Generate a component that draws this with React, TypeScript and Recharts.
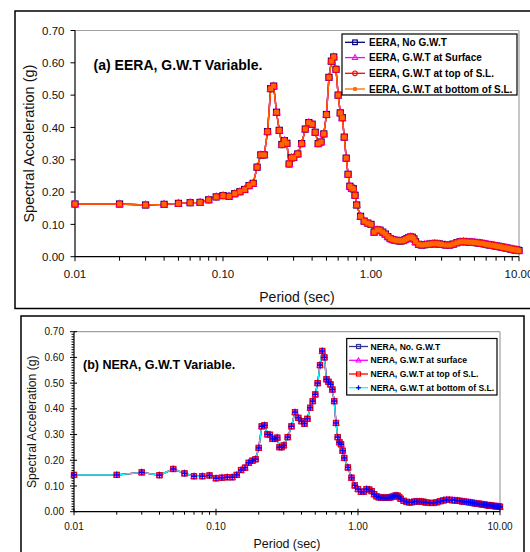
import React from 'react';
import { LineChart, Line, XAxis, YAxis, ReferenceLine } from 'recharts';

const FONT = 'Arial, "Liberation Sans", Helvetica, sans-serif';

// Period grid (sec)
const periods = [
  0.01, 0.02, 0.03, 0.04, 0.05, 0.06, 0.07, 0.08, 0.09, 0.10,
  0.11, 0.12, 0.13, 0.14, 0.15, 0.16, 0.17, 0.18, 0.19, 0.20,
  0.21, 0.22, 0.23, 0.24, 0.25, 0.26, 0.27, 0.28, 0.29, 0.30,
  0.32, 0.34, 0.36, 0.38, 0.40, 0.42, 0.44, 0.46, 0.48, 0.50,
  0.52, 0.54, 0.56, 0.58, 0.60, 0.62, 0.64, 0.66, 0.68, 0.70,
  0.72, 0.74, 0.76, 0.78, 0.80,
  0.85, 0.90, 0.95, 1.00, 1.05, 1.10, 1.15, 1.20, 1.25, 1.30,
  1.35, 1.40, 1.45, 1.50, 1.55, 1.60, 1.65, 1.70, 1.75, 1.80,
  1.85, 1.90, 1.95, 2.00,
  2.1, 2.2, 2.3, 2.4, 2.5, 2.6, 2.7, 2.8, 2.9, 3.0,
  3.2, 3.4, 3.6, 3.8, 4.0, 4.2, 4.4, 4.6, 4.8, 5.0,
  5.2, 5.4, 5.6, 5.8, 6.0, 6.2, 6.4, 6.6, 6.8, 7.0,
  7.2, 7.4, 7.6, 7.8, 8.0, 8.2, 8.4, 8.6, 8.8, 9.0,
  9.2, 9.4, 9.6, 9.8, 10.0,
];

// (a) EERA spectral acceleration (g) - the four G.W.T cases coincide
const eeraSa = [
  0.163, 0.163, 0.160, 0.162, 0.165, 0.167, 0.168, 0.176, 0.185, 0.189,
  0.187, 0.195, 0.201, 0.208, 0.220, 0.227, 0.277, 0.315, 0.315, 0.387,
  0.520, 0.528, 0.447, 0.391, 0.347, 0.359, 0.351, 0.287, 0.306, 0.307,
  0.318, 0.350, 0.395, 0.415, 0.410, 0.385, 0.350, 0.355, 0.380, 0.440,
  0.555, 0.605, 0.618, 0.580, 0.500, 0.445, 0.430, 0.370, 0.305, 0.255,
  0.218, 0.212, 0.210, 0.190, 0.160,
  0.125, 0.110, 0.104, 0.100, 0.076, 0.083, 0.082, 0.076, 0.070, 0.062,
  0.056, 0.053, 0.051, 0.050, 0.049, 0.049, 0.050, 0.053, 0.056, 0.059,
  0.061, 0.060, 0.055, 0.046,
  0.038, 0.036, 0.037, 0.038, 0.039, 0.040, 0.041, 0.040, 0.039, 0.038,
  0.036, 0.036, 0.039, 0.043, 0.046, 0.047, 0.046, 0.045, 0.045, 0.044,
  0.043, 0.042, 0.041, 0.040, 0.038, 0.037, 0.036, 0.035, 0.034, 0.033,
  0.032, 0.031, 0.030, 0.029, 0.028, 0.027, 0.026, 0.025, 0.024, 0.023,
  0.022, 0.021, 0.021, 0.020, 0.019,
];

// (b) NERA spectral acceleration (g) - the four G.W.T cases coincide
const neraSa = [
  0.143, 0.143, 0.153, 0.142, 0.166, 0.149, 0.138, 0.138, 0.141, 0.130,
  0.132, 0.134, 0.134, 0.143, 0.162, 0.171, 0.190, 0.198, 0.204, 0.248,
  0.332, 0.336, 0.301, 0.299, 0.283, 0.283, 0.288, 0.251, 0.251, 0.258,
  0.290, 0.332, 0.387, 0.365, 0.352, 0.342, 0.361, 0.404, 0.430, 0.456,
  0.500, 0.570, 0.625, 0.600, 0.515, 0.505, 0.495, 0.475, 0.430, 0.345,
  0.290, 0.270, 0.262, 0.237, 0.209,
  0.172, 0.132, 0.102, 0.088, 0.077, 0.078, 0.088, 0.086, 0.080, 0.068,
  0.060, 0.056, 0.055, 0.054, 0.054, 0.054, 0.055, 0.056, 0.058, 0.061,
  0.063, 0.062, 0.057, 0.050,
  0.042, 0.038, 0.036, 0.037, 0.039, 0.040, 0.040, 0.039, 0.038, 0.036,
  0.034, 0.034, 0.037, 0.041, 0.044, 0.046, 0.046, 0.045, 0.044, 0.043,
  0.042, 0.040, 0.039, 0.038, 0.037, 0.036, 0.034, 0.033, 0.032, 0.031,
  0.030, 0.029, 0.028, 0.027, 0.026, 0.025, 0.024, 0.024, 0.023, 0.022,
  0.022, 0.021, 0.020, 0.020, 0.019,
];

const yMajorTicks = [0, 0.1, 0.2, 0.3, 0.4, 0.5, 0.6, 0.7];
const yTickLabels = ['0.00', '0.10', '0.20', '0.30', '0.40', '0.50', '0.60', '0.70'];
const xMajorTicks = [0.01, 0.1, 1, 10];
const xTickLabels = ['0.01', '0.10', '1.00', '10.00'];
const xMinorTicks = [
  0.02, 0.03, 0.04, 0.05, 0.06, 0.07, 0.08, 0.09,
  0.2, 0.3, 0.4, 0.5, 0.6, 0.7, 0.8, 0.9,
  2, 3, 4, 5, 6, 7, 8, 9,
];
const yMinorStep = 0.01;

const eeraSeries = [
  { key: 'noGwt', name: 'EERA, No G.W.T', color: '#000080', marker: 'square', markerColor: '#000080' },
  { key: 'surface', name: 'EERA, G.W.T at Surface', color: '#FF00FF', marker: 'triangle', markerColor: '#FF00FF' },
  { key: 'top', name: 'EERA, G.W.T at top of S.L.', color: '#FF0000', marker: 'circle', markerColor: '#FF0000' },
  { key: 'bottom', name: 'EERA, G.W.T at bottom of S.L.', color: '#FF6600', marker: 'star', markerColor: '#FF6600' },
];
const neraSeries = [
  { key: 'noGwt', name: 'NERA, No. G.W.T', color: '#333399', marker: 'square', markerColor: '#333399' },
  { key: 'surface', name: 'NERA, G.W.T at surface', color: '#FF00FF', marker: 'triangle', markerColor: '#FF00FF' },
  { key: 'top', name: 'NERA, G.W.T at top of S.L.', color: '#FF0000', marker: 'square', markerColor: '#FF0000' },
  { key: 'bottom', name: 'NERA, G.W.T at bottom of S.L.', color: '#00FFFF', marker: 'plus', markerColor: '#0000FF' },
];

const eeraData = periods.map((T, i) => ({ T, noGwt: eeraSa[i], surface: eeraSa[i], top: eeraSa[i], bottom: eeraSa[i] }));
const neraData = periods.map((T, i) => ({ T, noGwt: neraSa[i], surface: neraSa[i], top: neraSa[i], bottom: neraSa[i] }));

function Marker({ kind, cx, cy, color, s }: any) {
  switch (kind) {
    case 'square':
      return <rect x={cx - s} y={cy - s} width={2 * s} height={2 * s} fill="none" stroke={color} strokeWidth={1.2} />;
    case 'triangle':
      return (
        <polygon
          points={`${cx},${cy - s * 1.25} ${cx - s * 1.15},${cy + s * 0.85} ${cx + s * 1.15},${cy + s * 0.85}`}
          fill="none" stroke={color} strokeWidth={1.1}
        />
      );
    case 'circle':
      return <circle cx={cx} cy={cy} r={s} fill="none" stroke={color} strokeWidth={1.2} />;
    case 'star':
      return <rect x={cx - s * 0.8} y={cy - s * 0.8} width={s * 1.6} height={s * 1.6} fill={color} />;
    case 'plus':
      return (
        <g stroke={color} strokeWidth={1.3}>
          <line x1={cx - s * 1.2} x2={cx + s * 1.2} y1={cy} y2={cy} />
          <line x1={cx} x2={cx} y1={cy - s * 1.2} y2={cy + s * 1.2} />
        </g>
      );
    default:
      return null;
  }
}

const isMajorX = (v: number) => xMajorTicks.findIndex((m) => Math.abs(m - v) < 1e-9);
const isMajorY = (v: number) => Math.abs(v * 10 - Math.round(v * 10)) < 1e-6;

function makeXTick(cfg: any) {
  return (props: any) => {
    const { x, y, payload } = props;
    const idx = isMajorX(payload.value);
    const major = idx >= 0;
    return (
      <g>
        <line
          x1={x} x2={x}
          y1={y - (major ? cfg.majorUp : 0)}
          y2={y + (major ? cfg.majorDown : cfg.minorDown)}
          stroke="#000" strokeWidth={1}
        />
        {major && (
          <text x={x} y={y + cfg.labelDy} textAnchor="middle" fontSize={cfg.fontSize} fontFamily={FONT} fill="#111">
            {xTickLabels[idx]}
          </text>
        )}
      </g>
    );
  };
}

function makeYTick(cfg: any) {
  return (props: any) => {
    const { x, y, payload } = props;
    const v = payload.value;
    const major = isMajorY(v);
    const li = yMajorTicks.findIndex((m) => Math.abs(m - v) < 1e-9);
    return (
      <g>
        <line
          x1={x - (major ? cfg.majorLeft : cfg.minorLeft)}
          x2={x + (major ? cfg.majorRight : 0)}
          y1={y} y2={y} stroke="#000" strokeWidth={1}
        />
        {major && li >= 0 && (
          <text x={x - cfg.labelGap} y={y + cfg.fontSize * 0.36} textAnchor="end" fontSize={cfg.fontSize} fontFamily={FONT} fill="#111">
            {yTickLabels[li]}
          </text>
        )}
      </g>
    );
  };
}

function makeDot(kind: string, color: string, s: number) {
  return (props: any) => {
    const { cx, cy, index } = props;
    if (cx == null || cy == null) return <g key={`e-${index}`} />;
    return (
      <g key={`d-${index}`}>
        <Marker kind={kind} cx={cx} cy={cy} color={color} s={s} />
      </g>
    );
  };
}

function SpectraChart(p: any) {
  const yTicks = p.yMinor
    ? Array.from({ length: Math.round(0.7 / yMinorStep) + 1 }, (_, i) => Math.round(i * yMinorStep * 100) / 100)
    : yMajorTicks;
  const xTicks = [...xMajorTicks, ...xMinorTicks].sort((a, b) => a - b);
  return (
    <div style={{ position: 'absolute', left: 0, top: p.top, width: 530, height: p.height }}>
      <LineChart
        width={530}
        height={p.height}
        data={p.data}
        margin={{ top: p.marginTop, right: p.marginRight, bottom: 0, left: 0 }}
      >
        <XAxis
          dataKey="T"
          type="number"
          scale="log"
          domain={[0.01, 10]}
          ticks={xTicks}
          interval={0}
          tickSize={0}
          tickMargin={0}
          tickLine={false}
          height={p.xAxisHeight}
          axisLine={{ stroke: '#000', strokeWidth: 1.2 }}
          tick={makeXTick(p.xTick)}
        />
        <YAxis
          type="number"
          domain={[0, 0.7]}
          ticks={yTicks}
          interval={0}
          tickSize={0}
          tickMargin={0}
          tickLine={false}
          width={p.yAxisWidth}
          axisLine={{ stroke: '#000', strokeWidth: 1.2 }}
          tick={makeYTick(p.yTick)}
        />
        <ReferenceLine y={0.7} stroke="#a0a0a0" strokeWidth={1.2} />
        <ReferenceLine x={10} stroke="#a0a0a0" strokeWidth={1.2} />
        {p.series.map((s: any) => (
          <Line
            key={s.key}
            type="linear"
            dataKey={s.key}
            name={s.name}
            stroke={s.color}
            strokeWidth={1.4}
            dot={makeDot(s.marker, s.markerColor, p.markerSize)}
            activeDot={false}
            isAnimationActive={false}
          />
        ))}
      </LineChart>
    </div>
  );
}

function LegendBox({ series, x, y, w, h, rows, lineX1, lineX2, markerX, textX, fontSize, markerSize }: any) {
  return (
    <g>
      <rect x={x} y={y} width={w} height={h} fill="#fff" stroke="#000" strokeWidth={1.2} />
      {series.map((s: any, i: number) => (
        <g key={s.key}>
          <line x1={lineX1} x2={lineX2} y1={rows[i]} y2={rows[i]} stroke={s.color} strokeWidth={1.3} />
          <Marker kind={s.marker} cx={markerX} cy={rows[i]} color={s.markerColor} s={markerSize} />
          <text x={textX} y={rows[i]} dominantBaseline="central" fontSize={fontSize} fontWeight="bold" fontFamily={FONT} fill="#000">
            {s.name}
          </text>
        </g>
      ))}
    </g>
  );
}

export default function App() {
  return (
    <div style={{ position: 'absolute', left: 0, top: 0, width: 530, height: 552, overflow: 'hidden', background: '#fff' }}>
      <SpectraChart
        top={0}
        height={300}
        marginTop={30.5}
        marginRight={11}
        yAxisWidth={75}
        xAxisHeight={43.3}
        data={eeraData}
        series={eeraSeries}
        markerSize={3}
        yMinor={false}
        xTick={{ majorUp: 0, majorDown: 4.5, minorDown: 4, labelDy: 21.5, fontSize: 11.5 }}
        yTick={{ majorLeft: 4.5, minorLeft: 0, majorRight: 0, labelGap: 10.5, fontSize: 11.5 }}
      />
      <SpectraChart
        top={300}
        height={252}
        marginTop={31.7}
        marginRight={30}
        yAxisWidth={74}
        xAxisHeight={40.3}
        data={neraData}
        series={neraSeries}
        markerSize={2.5}
        yMinor={true}
        xTick={{ majorUp: 3, majorDown: 3.5, minorDown: 3, labelDy: 18, fontSize: 10 }}
        yTick={{ majorLeft: 4, minorLeft: 2.5, majorRight: 3, labelGap: 10, fontSize: 10 }}
      />
      <svg width={530} height={552} style={{ position: 'absolute', left: 0, top: 0, pointerEvents: 'none' }}>
        <rect x={15} y={11} width={530} height={297.5} fill="none" stroke="#000" strokeWidth={1.5} />
        <rect x={21} y={316} width={503} height={250} fill="none" stroke="#000" strokeWidth={1.5} />

        <text x={93.6} y={65} dominantBaseline="central" fontSize={14} fontWeight="bold" fontFamily={FONT} fill="#000">
          (a) EERA, G.W.T Variable.
        </text>
        <text x={83} y={365} dominantBaseline="central" fontSize={12.5} fontWeight="bold" fontFamily={FONT} fill="#000">
          (b) NERA, G.W.T Variable.
        </text>

        <text x={29} y={143.6} transform="rotate(-90 29 143.6)" textAnchor="middle" dominantBaseline="central" fontSize={14.5} fontFamily={FONT} fill="#111">
          Spectral Acceleration (g)
        </text>
        <text x={32} y={421.7} transform="rotate(-90 32 421.7)" textAnchor="middle" dominantBaseline="central" fontSize={12.2} fontFamily={FONT} fill="#111">
          Spectral Acceleration (g)
        </text>

        <text x={297} y={296.7} textAnchor="middle" dominantBaseline="central" fontSize={14} fontFamily={FONT} fill="#111">
          Period (sec)
        </text>
        <text x={287} y={544.3} textAnchor="middle" dominantBaseline="central" fontSize={12.4} fontFamily={FONT} fill="#111">
          Period (sec)
        </text>

        <LegendBox
          series={eeraSeries}
          x={342} y={34} w={175} h={61}
          rows={[42.3, 57.6, 73.3, 89]}
          lineX1={345} lineX2={365} markerX={355} textX={369}
          fontSize={10} markerSize={2.3}
        />
        <LegendBox
          series={neraSeries}
          x={346.7} y={338.5} w={150.3} h={56.5}
          rows={[346.5, 360.3, 374, 387.7]}
          lineX1={349} lineX2={368} markerX={358.5} textX={370.5}
          fontSize={8.6} markerSize={2}
        />
      </svg>
    </div>
  );
}
